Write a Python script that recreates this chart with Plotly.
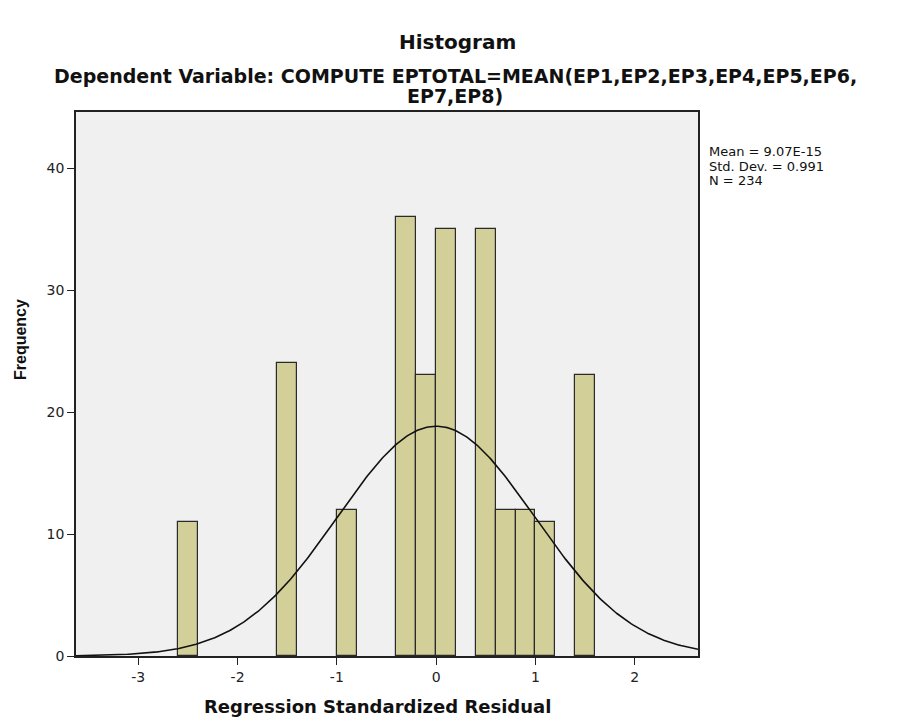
import numpy as np
import plotly.graph_objects as go

# Data
bin_centers = [-2.5, -1.5, -0.9, -0.3, -0.1, 0.1, 0.5, 0.7, 0.9, 1.1, 1.5]
counts = [11, 24, 12, 36, 23, 35, 35, 12, 12, 11, 23]
bin_width = 0.2
stat_mean = 9.07e-15
stat_sd = 0.991
stat_n = 234
x_ticks = [-3, -2, -1, 0, 1, 2]
y_ticks = [0, 10, 20, 30, 40]
stat_lines = ["Mean = 9.07E-15", "Std. Dev. = 0.991", "N = 234"]

x_range = [-3.627, 2.637]
y_range = [0, 44.6]

xs = np.linspace(x_range[0], x_range[1], 400)
curve = stat_n * bin_width * np.exp(-0.5 * ((xs - stat_mean) / stat_sd) ** 2) / (stat_sd * np.sqrt(2 * np.pi))

fig = go.Figure()
fig.add_trace(go.Bar(
    x=bin_centers, y=counts, width=bin_width,
    marker=dict(color="#d3cf98", line=dict(color="#2a2a2a", width=1.2)),
    hoverinfo="x+y", showlegend=False,
))
fig.add_trace(go.Scatter(
    x=xs, y=curve, mode="lines",
    line=dict(color="#111111", width=1.6), showlegend=False, hoverinfo="skip",
))

wide = "DejaVu Sans, Verdana, sans-serif"
arial = "Liberation Sans, Arial, sans-serif"

# plot area in page pixels (reference): left 76, right 698, top 112, bottom 656
PL, PR, PT, PB = 76, 698, 112, 656
OFF = 8  # page body margin


def px(xp):
    return (xp - PL) / (PR - PL)


def py(yp):
    return (PB - yp) / (PB - PT)


annotations = [
    dict(text="<b>Histogram</b>", x=px(457), y=py(42), font=dict(family=wide, size=20, color="#111111")),
    dict(text="<b>Dependent Variable: COMPUTE EPTOTAL=MEAN(EP1,EP2,EP3,EP4,EP5,EP6,</b>",
         x=px(455), y=py(76), font=dict(family=wide, size=19, color="#111111")),
    dict(text="<b>EP7,EP8)</b>", x=px(455), y=py(96), font=dict(family=wide, size=19, color="#111111")),
    dict(text="<b>Regression Standardized Residual</b>", x=px(377), y=py(706),
         font=dict(family=wide, size=18, color="#111111")),
    dict(text="<b>Frequency</b>", x=px(20), y=py(340), textangle=-90,
         font=dict(family=arial, size=16, color="#111111")),
]
for i, line in enumerate(stat_lines):
    annotations.append(dict(text=line, x=px(707), y=py(152 + 14 * i), xanchor="left",
                            font=dict(family=wide, size=13, color="#111111")))
for a in annotations:
    a.setdefault("xanchor", "center")
    a.update(xref="paper", yref="paper", yanchor="middle", showarrow=False)

fig.update_layout(
    width=910, height=725,
    margin=dict(l=PL - OFF, r=910 - PR + OFF, t=PT - OFF, b=725 - PB + OFF),
    paper_bgcolor="white", plot_bgcolor="#f0f0f0",
    font=dict(family=wide, size=14, color="#222222"),
    bargap=0,
    xaxis=dict(
        range=x_range, tickvals=x_ticks, ticktext=[str(v) for v in x_ticks],
        ticks="outside", ticklen=7, tickwidth=1.2, tickcolor="#222222",
        showgrid=False, zeroline=False,
        showline=True, linecolor="#222222", linewidth=1.6, mirror=True,
        tickfont=dict(family=wide, size=14, color="#222222"),
    ),
    yaxis=dict(
        range=y_range, tickvals=y_ticks,
        ticks="outside", ticklen=7, tickwidth=1.2, tickcolor="#222222",
        showgrid=False, zeroline=False,
        showline=True, linecolor="#222222", linewidth=1.6, mirror=True,
        tickfont=dict(family=wide, size=14, color="#222222"),
    ),
    annotations=annotations,
)

fig.write_html("out.html")
